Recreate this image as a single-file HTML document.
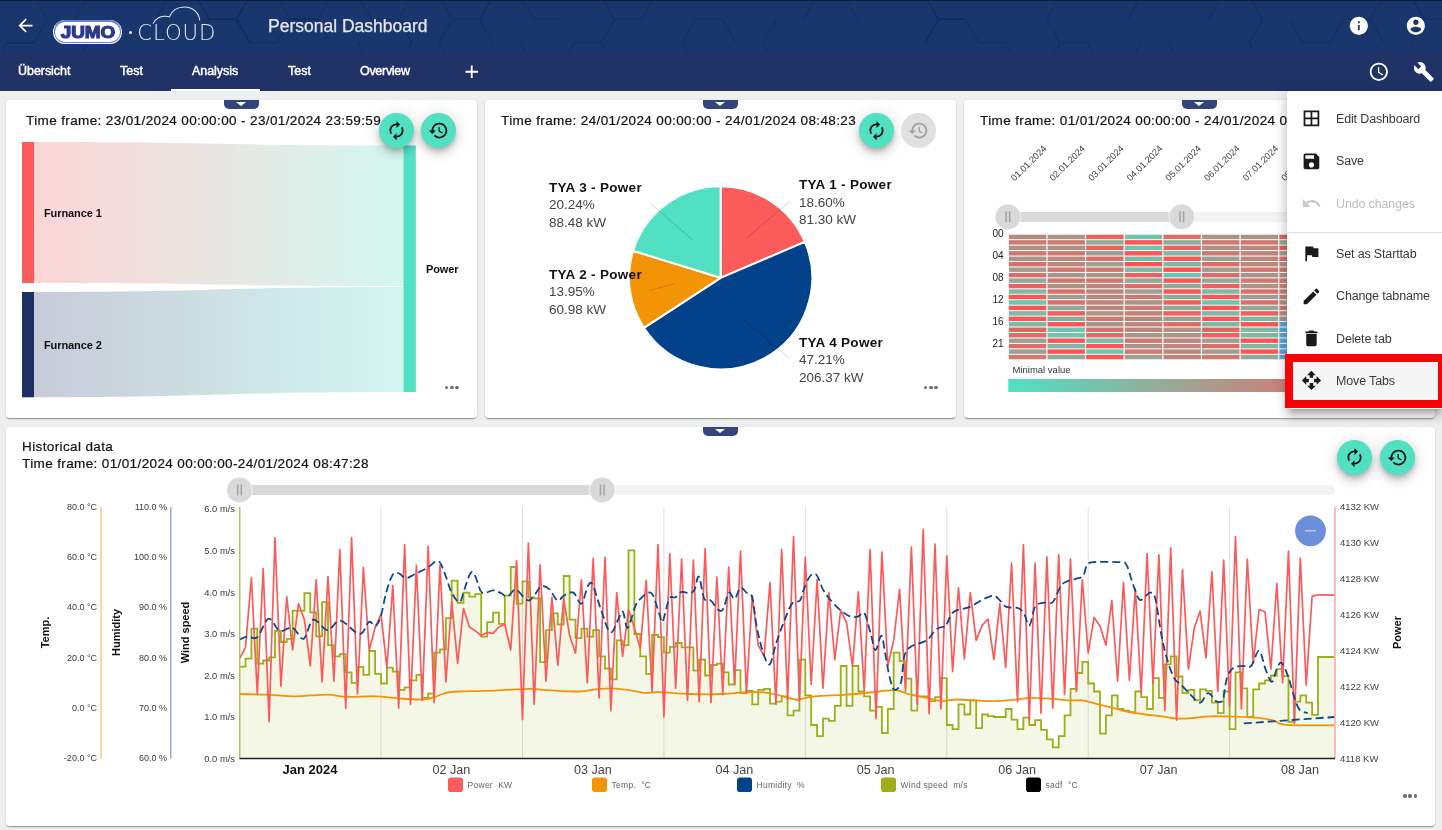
<!DOCTYPE html><html><head><meta charset="utf-8"><title>Personal Dashboard</title><style>
*{box-sizing:border-box;margin:0;padding:0}
html,body{width:1442px;height:830px;overflow:hidden;background:#eef0f0;font-family:"Liberation Sans",sans-serif;}
.abs{position:absolute}
#top{position:absolute;left:0;top:0;width:1442px;height:52px;background:#19376d;overflow:hidden}
#tabs{position:absolute;left:0;top:52px;width:1442px;height:39px;background:#213267}
.tab{position:absolute;top:11.8px;color:#fff;font-size:12.5px;font-weight:400;white-space:nowrap;-webkit-text-stroke:.45px #fff}
.card{position:absolute;background:#fff;border-radius:4px;box-shadow:0 2px 1px -1px rgba(0,0,0,.2),0 1px 1px 0 rgba(0,0,0,.14),0 1px 3px 0 rgba(0,0,0,.12);overflow:hidden}
.tf{position:absolute;font-size:13.5px;color:#111;white-space:nowrap;letter-spacing:.38px;-webkit-text-stroke:.2px #111}
.handle{position:absolute;left:50%;top:0;width:35px;height:8.6px;margin-left:-17.7px;background:#34457a;border-radius:0 0 5px 5px}
.handle:after{content:"";position:absolute;left:12.6px;top:1.6px;border-left:5px solid transparent;border-right:5px solid transparent;border-top:4.8px solid #fff}
.fab{position:absolute;width:35.2px;height:35.2px;border-radius:50%;background:#52e0c3;box-shadow:0 3px 5px -1px rgba(0,0,0,.2),0 6px 10px 0 rgba(0,0,0,.14),0 1px 18px 0 rgba(0,0,0,.12)}
.fab.dis{background:#e0e0e0;box-shadow:none}
.fab svg{position:absolute;left:7.1px;top:7.1px;width:21px;height:21px}
.dots{position:absolute;width:16px;height:4px}
.dots i{position:absolute;top:0;width:3.6px;height:3.6px;border-radius:50%;background:#6e6e6e}
#menu{position:absolute;left:1287px;top:91px;width:155px;height:318px;background:#fff;border-radius:4px 0 0 4px;box-shadow:0 5px 5px -3px rgba(0,0,0,.2),0 8px 10px 1px rgba(0,0,0,.14),0 3px 14px 2px rgba(0,0,0,.12)}
.mi{position:absolute;left:49px;font-size:12.5px;color:#3a3a3a;white-space:nowrap;letter-spacing:-.15px}
.mi.dis{color:#bdbdbd}
.mic{position:absolute;left:13.9px;width:20.9px;height:20.9px}
svg text{font-family:"Liberation Sans",sans-serif}
</style></head><body>
<div id="top">
<svg class="abs" style="left:0;top:0" width="1442" height="52" viewBox="0 0 1442 52"><g fill="none" stroke="#122b58" stroke-opacity=".55" stroke-width="1.2">
<polyline points="-6.5,19.4 -33.5,19.4 -47.0,-4.0 -33.5,-27.4"/>
<polyline points="128.5,-27.4 155.5,-27.4 169.0,-4.0"/>
<polyline points="250.0,-4.0 236.5,19.4 209.5,19.4 196.0,-4.0"/>
<polyline points="331.0,-4.0 317.5,19.4 290.5,19.4 277.0,-4.0"/>
<polyline points="398.5,19.4 371.5,19.4 358.0,-4.0"/>
<polyline points="493.0,-4.0 479.5,19.4 452.5,19.4 439.0,-4.0"/>
<polyline points="560.5,19.4 533.5,19.4 520.0,-4.0 533.5,-27.4"/>
<polyline points="763.0,-4.0 776.5,-27.4 803.5,-27.4"/>
<polyline points="965.5,19.4 938.5,19.4 925.0,-4.0 938.5,-27.4"/>
<polyline points="1019.5,-27.4 1046.5,-27.4 1060.0,-4.0"/>
<polyline points="1100.5,-27.4 1127.5,-27.4 1141.0,-4.0 1127.5,19.4"/>
<polyline points="1181.5,-27.4 1208.5,-27.4 1222.0,-4.0 1208.5,19.4"/>
<polyline points="1343.5,-27.4 1370.5,-27.4 1384.0,-4.0 1370.5,19.4"/>
<polyline points="1465.0,-4.0 1451.5,19.4 1424.5,19.4 1411.0,-4.0"/>
<polyline points="34.0,-4.0 47.5,19.4 34.0,42.8 7.0,42.8"/>
<polyline points="88.0,42.8 74.5,19.4 88.0,-4.0 115.0,-4.0"/>
<polyline points="155.5,19.4 169.0,-4.0 196.0,-4.0 209.5,19.4"/>
<polyline points="277.0,42.8 250.0,42.8 236.5,19.4 250.0,-4.0"/>
<polyline points="412.0,42.8 398.5,19.4 412.0,-4.0 439.0,-4.0"/>
<polyline points="493.0,42.8 479.5,19.4 493.0,-4.0 520.0,-4.0"/>
<polyline points="574.0,-4.0 601.0,-4.0 614.5,19.4"/>
<polyline points="641.5,19.4 655.0,-4.0 682.0,-4.0"/>
<polyline points="803.5,19.4 817.0,-4.0 844.0,-4.0 857.5,19.4"/>
<polyline points="925.0,-4.0 938.5,19.4 925.0,42.8"/>
<polyline points="1060.0,42.8 1046.5,19.4 1060.0,-4.0 1087.0,-4.0"/>
<polyline points="1222.0,-4.0 1249.0,-4.0 1262.5,19.4 1249.0,42.8"/>
<polyline points="1343.5,19.4 1330.0,42.8 1303.0,42.8 1289.5,19.4"/>
<polyline points="1411.0,-4.0 1424.5,19.4 1411.0,42.8"/>
<polyline points="1492.0,-4.0 1505.5,19.4 1492.0,42.8 1465.0,42.8"/>
<polyline points="196.0,42.8 209.5,19.4 236.5,19.4 250.0,42.8"/>
<polyline points="277.0,42.8 290.5,19.4 317.5,19.4 331.0,42.8"/>
<polyline points="412.0,42.8 398.5,66.1 371.5,66.1 358.0,42.8"/>
<polyline points="452.5,66.1 439.0,42.8 452.5,19.4"/>
<polyline points="601.0,42.8 614.5,19.4 641.5,19.4"/>
<polyline points="682.0,42.8 695.5,19.4 722.5,19.4 736.0,42.8"/>
<polyline points="803.5,66.1 776.5,66.1 763.0,42.8 776.5,19.4"/>
<polyline points="925.0,42.8 938.5,19.4 965.5,19.4 979.0,42.8"/>
<polyline points="1127.5,66.1 1100.5,66.1 1087.0,42.8"/>
<polyline points="1208.5,66.1 1181.5,66.1 1168.0,42.8"/>
<polyline points="1343.5,19.4 1370.5,19.4 1384.0,42.8"/>
<polyline points="1465.0,42.8 1451.5,66.1 1424.5,66.1"/>
<polyline points="7.0,89.5 -6.5,66.1 7.0,42.8 34.0,42.8"/>
<polyline points="115.0,89.5 88.0,89.5 74.5,66.1 88.0,42.8"/>
<polyline points="520.0,42.8 533.5,66.1 520.0,89.5 493.0,89.5"/>
<polyline points="560.5,66.1 574.0,42.8 601.0,42.8 614.5,66.1"/>
<polyline points="682.0,42.8 695.5,66.1 682.0,89.5 655.0,89.5"/>
<polyline points="776.5,66.1 763.0,89.5 736.0,89.5"/>
<polyline points="857.5,66.1 844.0,89.5 817.0,89.5 803.5,66.1"/>
<polyline points="979.0,42.8 1006.0,42.8 1019.5,66.1"/>
<polyline points="1060.0,89.5 1046.5,66.1 1060.0,42.8 1087.0,42.8"/>
<polyline points="1168.0,89.5 1141.0,89.5 1127.5,66.1 1141.0,42.8"/>
<polyline points="1249.0,42.8 1262.5,66.1 1249.0,89.5 1222.0,89.5"/>
<polyline points="1505.5,66.1 1492.0,89.5 1465.0,89.5 1451.5,66.1"/>
</g><rect x="0" y="0" width="1442" height="1" fill="#0b1a3a"/></svg>
<svg class="abs" style="left:14.8px;top:15.1px;width:21px;height:21px" viewBox="0 0 24 24"><path fill="#fff" d="M20 11H7.83l5.59-5.59L12 4l-8 8 8 8 1.41-1.41L7.83 13H20v-2z"/></svg>
<div class="abs" style="left:53.2px;top:19.6px;width:68.8px;height:24.2px;border-radius:12.1px;background:#fff"></div>
<div class="abs" style="left:54px;top:20.4px;width:67.2px;height:22.6px;border-radius:11.3px;background:#6f82cc"></div>
<div class="abs" style="left:55.4px;top:21.8px;width:64.4px;height:19.8px;border-radius:9.9px;background:#fff"></div>
<div class="abs" style="left:58px;top:22.2px;width:60px;text-align:center;font-size:17.2px;line-height:20px;font-weight:700;color:#2b3a8f;letter-spacing:0px;-webkit-text-stroke:1.2px #2b3a8f;transform:scaleX(1.1)">JUMO</div>
<div class="abs" style="left:128.9px;top:30.9px;width:3px;height:3px;border-radius:50%;background:#e4e8f2"></div>
<svg class="abs" style="left:134px;top:2px" width="90" height="46" viewBox="134 2 90 46"><g fill="none" stroke="#e4e8f2" stroke-width="1.05"><path d="M153 23.6 C155 19 160 16.4 164 16.2 C166 16.1 168 16.3 169.5 16.7 C172 10.5 178 7 184.7 7 C193 7 199 13 199.8 20.4"/></g><text x="137.3" y="40.4" font-size="21.3" fill="#e4e8f2" textLength="78" lengthAdjust="spacing" style="font-family:'DejaVu Sans','Liberation Sans',sans-serif;font-weight:200">CLOUD</text></svg>
<div class="abs" style="left:268px;top:15.9px;font-size:17.5px;color:#e6e8ee;white-space:nowrap;-webkit-text-stroke:.25px #e6e8ee">Personal Dashboard</div>
<svg class="abs" style="left:1348.2px;top:14.8px;width:21.7px;height:21.7px" viewBox="0 0 24 24"><path fill="#fff" d="M12 2C6.48 2 2 6.48 2 12s4.48 10 10 10 10-4.48 10-10S17.52 2 12 2zm1 15h-2v-6h2v6zm0-8h-2V7h2v2z"/></svg>
<svg class="abs" style="left:1405.0px;top:14.8px;width:21.7px;height:21.7px" viewBox="0 0 24 24"><path fill="#fff" d="M12 2C6.48 2 2 6.48 2 12s4.48 10 10 10 10-4.48 10-10S17.52 2 12 2zm0 3c1.66 0 3 1.34 3 3s-1.34 3-3 3-3-1.34-3-3 1.34-3 3-3zm0 14.2c-2.5 0-4.71-1.28-6-3.22.03-1.99 4-3.08 6-3.08 1.99 0 5.97 1.09 6 3.08-1.29 1.94-3.5 3.22-6 3.22z"/></svg>
</div>
<div id="tabs">
<div class="tab" style="left:18px;letter-spacing:-0.05px">Übersicht</div>
<div class="tab" style="left:120px;letter-spacing:0px">Test</div>
<div class="tab" style="left:192px;letter-spacing:-0.05px">Analysis</div>
<div class="tab" style="left:288px;letter-spacing:0px">Test</div>
<div class="tab" style="left:360px;letter-spacing:-0.3px">Overview</div>
<div class="abs" style="left:171px;top:37px;width:89px;height:2px;background:#fff"></div>
<svg class="abs" style="left:460.9px;top:8.8px;width:21.5px;height:21.5px" viewBox="0 0 24 24"><path fill="#fff" d="M19 13h-6v6h-2v-6H5v-2h6V5h2v6h6v2z"/></svg>
<svg class="abs" style="left:1368.1px;top:8.5px;width:21.7px;height:21.7px" viewBox="0 0 24 24"><path fill="#fff" d="M11.99 2C6.47 2 2 6.48 2 12s4.47 10 9.99 10C17.52 22 22 17.52 22 12S17.52 2 11.99 2zM12 20c-4.42 0-8-3.58-8-8s3.58-8 8-8 8 3.58 8 8-3.58 8-8 8zm.5-13H11v6l5.25 3.15.75-1.23-4.5-2.67z"/></svg>
<svg class="abs" style="left:1413.4px;top:8.8px;width:21.7px;height:21.7px" viewBox="0 0 24 24"><path fill="#fff" d="M22.7 19l-9.1-9.1c.9-2.3.4-5-1.5-6.9-2-2-5-2.4-7.4-1.3L9 6 6 9 1.6 4.7C.4 7.1.9 10.1 2.9 12.1c1.9 1.9 4.6 2.4 6.9 1.5l9.1 9.1c.4.4 1 .4 1.4 0l2.3-2.3c.5-.4.5-1.1.1-1.4z"/></svg>
</div>
<div class="card" style="left:6px;top:100px;width:471px;height:318px"><div class="handle"></div></div>
<div class="card" style="left:485px;top:100px;width:471px;height:318px"><div class="handle"></div></div>
<div class="card" style="left:964px;top:100px;width:471px;height:318px"><div class="handle"></div></div>
<div class="card" style="left:6px;top:427px;width:1429px;height:399px"><div class="handle"></div></div>
<div class="tf" style="left:26px;top:112.8px">Time frame: 23/01/2024 00:00:00 - 23/01/2024 23:59:59</div>
<div class="tf" style="left:501px;top:112.8px">Time frame: 24/01/2024 00:00:00 - 24/01/2024 08:48:23</div>
<div class="tf" style="left:980px;top:112.8px">Time frame: 01/01/2024 00:00:00 - 24/01/2024 08:48:23</div>
<div class="tf" style="left:22px;top:439px">Historical data</div>
<div class="tf" style="left:22px;top:456px">Time frame: 01/01/2024 00:00:00-24/01/2024 08:47:28</div>
<svg class="abs" style="left:0;top:0" width="1442" height="830" viewBox="0 0 1442 830">
<defs><linearGradient id="g1" x1="0" x2="1" y1="0" y2="0"><stop offset="0" stop-color="#fcd6d5"/><stop offset="1" stop-color="#d3f7f0"/></linearGradient><linearGradient id="g2" x1="0" x2="1" y1="0" y2="0"><stop offset="0" stop-color="#c7cbd8"/><stop offset="1" stop-color="#d3f7f0"/></linearGradient><linearGradient id="g3" x1="0" x2="1" y1="0" y2="0"><stop offset="0" stop-color="#52e0c3"/><stop offset="1" stop-color="#fb5b5b"/></linearGradient><clipPath id="cp"><rect x="240" y="500" width="1094.5" height="258.5"/></clipPath><clipPath id="c3"><rect x="964" y="100" width="323" height="318"/></clipPath></defs>
<path d="M34 142 C218 142 218 145.5 403.5 145.5 L403.5 286.3 C218 286.3 218 283 34 283 Z" fill="url(#g1)"/>
<path d="M34 292 C218 292 218 287 403.5 287 L403.5 392 C218 392 218 397.3 34 397.3 Z" fill="url(#g2)"/>
<rect x="22" y="142" width="12" height="141" fill="#fb5b5b"/>
<rect x="22" y="292" width="12" height="105.3" fill="#1e2f63"/>
<rect x="403.5" y="145.5" width="12.3" height="246.5" fill="#52e0c3"/>
<text x="44" y="216.5" font-size="11" font-weight="700" fill="#111" letter-spacing="-.1">Furnance 1</text>
<text x="44" y="349" font-size="11" font-weight="700" fill="#111" letter-spacing="-.1">Furnance 2</text>
<text x="426" y="273" font-size="11" font-weight="700" fill="#111" letter-spacing="-.1">Power</text>
<path d="M720.6 277.8 L720.60 186.20 A91.6 91.6 0 0 1 804.89 241.95 Z" fill="#fb5b5b" stroke="#fff" stroke-width="2" stroke-linejoin="round"/>
<path d="M720.6 277.8 L804.89 241.95 A91.6 91.6 0 0 1 643.85 327.80 Z" fill="#02428a" stroke="#fff" stroke-width="2" stroke-linejoin="round"/>
<path d="M720.6 277.8 L643.85 327.80 A91.6 91.6 0 0 1 633.07 250.81 Z" fill="#f39406" stroke="#fff" stroke-width="2" stroke-linejoin="round"/>
<path d="M720.6 277.8 L633.07 250.81 A91.6 91.6 0 0 1 720.60 186.20 Z" fill="#52e0c3" stroke="#fff" stroke-width="2" stroke-linejoin="round"/>
<line x1="745.8" y1="238.8" x2="790" y2="201" stroke="#000" stroke-opacity=".17" stroke-width="1"/>
<line x1="692.9" y1="240.3" x2="650.4" y2="203.4" stroke="#000" stroke-opacity=".17" stroke-width="1"/>
<line x1="674.4" y1="283.9" x2="650.4" y2="290.2" stroke="#000" stroke-opacity=".17" stroke-width="1"/>
<line x1="741.5" y1="318" x2="790" y2="358.5" stroke="#000" stroke-opacity=".17" stroke-width="1"/>
<text x="799" y="189.0" font-size="13.5" font-weight="700" fill="#111" letter-spacing=".3">TYA 1 - Power</text>
<text x="799" y="206.9" font-size="13.5" fill="#444" letter-spacing="0">18.60%</text>
<text x="799" y="224.2" font-size="13.5" fill="#444" letter-spacing="0">81.30 kW</text>
<text x="549" y="191.5" font-size="13.5" font-weight="700" fill="#111" letter-spacing=".3">TYA 3 - Power</text>
<text x="549" y="209.4" font-size="13.5" fill="#444" letter-spacing="0">20.24%</text>
<text x="549" y="226.7" font-size="13.5" fill="#444" letter-spacing="0">88.48 kW</text>
<text x="549" y="278.5" font-size="13.5" font-weight="700" fill="#111" letter-spacing=".3">TYA 2 - Power</text>
<text x="549" y="296.4" font-size="13.5" fill="#444" letter-spacing="0">13.95%</text>
<text x="549" y="313.7" font-size="13.5" fill="#444" letter-spacing="0">60.98 kW</text>
<text x="799" y="346.5" font-size="13.5" font-weight="700" fill="#111" letter-spacing=".3">TYA 4 Power</text>
<text x="799" y="364.4" font-size="13.5" fill="#444" letter-spacing="0">47.21%</text>
<text x="799" y="381.7" font-size="13.5" fill="#444" letter-spacing="0">206.37 kW</text>
<g clip-path="url(#c3)">
<rect x="1008.90" y="234.70" width="37.43" height="4.46" fill="rgb(189, 134, 124)"/>
<rect x="1008.90" y="240.16" width="37.43" height="4.46" fill="rgb(204, 122, 114)"/>
<rect x="1008.90" y="245.62" width="37.43" height="4.46" fill="rgb(173, 147, 134)"/>
<rect x="1008.90" y="251.08" width="37.43" height="4.46" fill="rgb(204, 122, 114)"/>
<rect x="1008.90" y="256.54" width="37.43" height="4.46" fill="rgb(173, 147, 134)"/>
<rect x="1008.90" y="262.00" width="37.43" height="4.46" fill="rgb(220, 110, 105)"/>
<rect x="1008.90" y="267.46" width="37.43" height="4.46" fill="rgb(158, 159, 144)"/>
<rect x="1008.90" y="272.92" width="37.43" height="4.46" fill="rgb(220, 110, 105)"/>
<rect x="1008.90" y="278.38" width="37.43" height="4.46" fill="rgb(142, 171, 153)"/>
<rect x="1008.90" y="283.84" width="37.43" height="4.46" fill="rgb(235, 97, 95)"/>
<rect x="1008.90" y="289.30" width="37.43" height="4.46" fill="rgb(127, 184, 163)"/>
<rect x="1008.90" y="294.76" width="37.43" height="4.46" fill="rgb(251, 85, 85)"/>
<rect x="1008.90" y="300.22" width="37.43" height="4.46" fill="rgb(111, 196, 173)"/>
<rect x="1008.90" y="305.68" width="37.43" height="4.46" fill="rgb(251, 85, 85)"/>
<rect x="1008.90" y="311.14" width="37.43" height="4.46" fill="rgb(127, 184, 163)"/>
<rect x="1008.90" y="316.60" width="37.43" height="4.46" fill="rgb(251, 85, 85)"/>
<rect x="1008.90" y="322.06" width="37.43" height="4.46" fill="rgb(127, 184, 163)"/>
<rect x="1008.90" y="327.52" width="37.43" height="4.46" fill="rgb(235, 97, 95)"/>
<rect x="1008.90" y="332.98" width="37.43" height="4.46" fill="rgb(220, 110, 105)"/>
<rect x="1008.90" y="338.44" width="37.43" height="4.46" fill="rgb(158, 159, 144)"/>
<rect x="1008.90" y="343.90" width="37.43" height="4.46" fill="rgb(220, 110, 105)"/>
<rect x="1008.90" y="349.36" width="37.43" height="4.46" fill="rgb(158, 159, 144)"/>
<rect x="1008.90" y="354.82" width="37.43" height="4.46" fill="rgb(204, 122, 114)"/>
<rect x="1047.53" y="234.70" width="37.43" height="4.46" fill="rgb(173, 147, 134)"/>
<rect x="1047.53" y="240.16" width="37.43" height="4.46" fill="rgb(204, 122, 114)"/>
<rect x="1047.53" y="245.62" width="37.43" height="4.46" fill="rgb(173, 147, 134)"/>
<rect x="1047.53" y="251.08" width="37.43" height="4.46" fill="rgb(204, 122, 114)"/>
<rect x="1047.53" y="256.54" width="37.43" height="4.46" fill="rgb(189, 134, 124)"/>
<rect x="1047.53" y="262.00" width="37.43" height="4.46" fill="rgb(189, 134, 124)"/>
<rect x="1047.53" y="267.46" width="37.43" height="4.46" fill="rgb(204, 122, 114)"/>
<rect x="1047.53" y="272.92" width="37.43" height="4.46" fill="rgb(173, 147, 134)"/>
<rect x="1047.53" y="278.38" width="37.43" height="4.46" fill="rgb(204, 122, 114)"/>
<rect x="1047.53" y="283.84" width="37.43" height="4.46" fill="rgb(173, 147, 134)"/>
<rect x="1047.53" y="289.30" width="37.43" height="4.46" fill="rgb(220, 110, 105)"/>
<rect x="1047.53" y="294.76" width="37.43" height="4.46" fill="rgb(158, 159, 144)"/>
<rect x="1047.53" y="300.22" width="37.43" height="4.46" fill="rgb(220, 110, 105)"/>
<rect x="1047.53" y="305.68" width="37.43" height="4.46" fill="rgb(142, 171, 153)"/>
<rect x="1047.53" y="311.14" width="37.43" height="4.46" fill="rgb(235, 97, 95)"/>
<rect x="1047.53" y="316.60" width="37.43" height="4.46" fill="rgb(142, 171, 153)"/>
<rect x="1047.53" y="322.06" width="37.43" height="4.46" fill="rgb(251, 85, 85)"/>
<rect x="1047.53" y="327.52" width="37.43" height="4.46" fill="rgb(111, 196, 173)"/>
<rect x="1047.53" y="332.98" width="37.43" height="4.46" fill="rgb(111, 196, 173)"/>
<rect x="1047.53" y="338.44" width="37.43" height="4.46" fill="rgb(251, 85, 85)"/>
<rect x="1047.53" y="343.90" width="37.43" height="4.46" fill="rgb(127, 184, 163)"/>
<rect x="1047.53" y="349.36" width="37.43" height="4.46" fill="rgb(251, 85, 85)"/>
<rect x="1047.53" y="354.82" width="37.43" height="4.46" fill="rgb(142, 171, 153)"/>
<rect x="1086.16" y="234.70" width="37.43" height="4.46" fill="rgb(235, 97, 95)"/>
<rect x="1086.16" y="240.16" width="37.43" height="4.46" fill="rgb(142, 171, 153)"/>
<rect x="1086.16" y="245.62" width="37.43" height="4.46" fill="rgb(235, 97, 95)"/>
<rect x="1086.16" y="251.08" width="37.43" height="4.46" fill="rgb(158, 159, 144)"/>
<rect x="1086.16" y="256.54" width="37.43" height="4.46" fill="rgb(220, 110, 105)"/>
<rect x="1086.16" y="262.00" width="37.43" height="4.46" fill="rgb(158, 159, 144)"/>
<rect x="1086.16" y="267.46" width="37.43" height="4.46" fill="rgb(204, 122, 114)"/>
<rect x="1086.16" y="272.92" width="37.43" height="4.46" fill="rgb(173, 147, 134)"/>
<rect x="1086.16" y="278.38" width="37.43" height="4.46" fill="rgb(204, 122, 114)"/>
<rect x="1086.16" y="283.84" width="37.43" height="4.46" fill="rgb(189, 134, 124)"/>
<rect x="1086.16" y="289.30" width="37.43" height="4.46" fill="rgb(189, 134, 124)"/>
<rect x="1086.16" y="294.76" width="37.43" height="4.46" fill="rgb(189, 134, 124)"/>
<rect x="1086.16" y="300.22" width="37.43" height="4.46" fill="rgb(189, 134, 124)"/>
<rect x="1086.16" y="305.68" width="37.43" height="4.46" fill="rgb(189, 134, 124)"/>
<rect x="1086.16" y="311.14" width="37.43" height="4.46" fill="rgb(173, 147, 134)"/>
<rect x="1086.16" y="316.60" width="37.43" height="4.46" fill="rgb(204, 122, 114)"/>
<rect x="1086.16" y="322.06" width="37.43" height="4.46" fill="rgb(173, 147, 134)"/>
<rect x="1086.16" y="327.52" width="37.43" height="4.46" fill="rgb(220, 110, 105)"/>
<rect x="1086.16" y="332.98" width="37.43" height="4.46" fill="rgb(220, 110, 105)"/>
<rect x="1086.16" y="338.44" width="37.43" height="4.46" fill="rgb(127, 184, 163)"/>
<rect x="1086.16" y="343.90" width="37.43" height="4.46" fill="rgb(251, 85, 85)"/>
<rect x="1086.16" y="349.36" width="37.43" height="4.46" fill="rgb(111, 196, 173)"/>
<rect x="1086.16" y="354.82" width="37.43" height="4.46" fill="rgb(251, 85, 85)"/>
<rect x="1124.79" y="234.70" width="37.43" height="4.46" fill="rgb(111, 196, 173)"/>
<rect x="1124.79" y="240.16" width="37.43" height="4.46" fill="rgb(251, 85, 85)"/>
<rect x="1124.79" y="245.62" width="37.43" height="4.46" fill="rgb(111, 196, 173)"/>
<rect x="1124.79" y="251.08" width="37.43" height="4.46" fill="rgb(251, 85, 85)"/>
<rect x="1124.79" y="256.54" width="37.43" height="4.46" fill="rgb(127, 184, 163)"/>
<rect x="1124.79" y="262.00" width="37.43" height="4.46" fill="rgb(251, 85, 85)"/>
<rect x="1124.79" y="267.46" width="37.43" height="4.46" fill="rgb(127, 184, 163)"/>
<rect x="1124.79" y="272.92" width="37.43" height="4.46" fill="rgb(235, 97, 95)"/>
<rect x="1124.79" y="278.38" width="37.43" height="4.46" fill="rgb(142, 171, 153)"/>
<rect x="1124.79" y="283.84" width="37.43" height="4.46" fill="rgb(220, 110, 105)"/>
<rect x="1124.79" y="289.30" width="37.43" height="4.46" fill="rgb(158, 159, 144)"/>
<rect x="1124.79" y="294.76" width="37.43" height="4.46" fill="rgb(204, 122, 114)"/>
<rect x="1124.79" y="300.22" width="37.43" height="4.46" fill="rgb(173, 147, 134)"/>
<rect x="1124.79" y="305.68" width="37.43" height="4.46" fill="rgb(204, 122, 114)"/>
<rect x="1124.79" y="311.14" width="37.43" height="4.46" fill="rgb(189, 134, 124)"/>
<rect x="1124.79" y="316.60" width="37.43" height="4.46" fill="rgb(189, 134, 124)"/>
<rect x="1124.79" y="322.06" width="37.43" height="4.46" fill="rgb(189, 134, 124)"/>
<rect x="1124.79" y="327.52" width="37.43" height="4.46" fill="rgb(189, 134, 124)"/>
<rect x="1124.79" y="332.98" width="37.43" height="4.46" fill="rgb(173, 147, 134)"/>
<rect x="1124.79" y="338.44" width="37.43" height="4.46" fill="rgb(204, 122, 114)"/>
<rect x="1124.79" y="343.90" width="37.43" height="4.46" fill="rgb(173, 147, 134)"/>
<rect x="1124.79" y="349.36" width="37.43" height="4.46" fill="rgb(204, 122, 114)"/>
<rect x="1124.79" y="354.82" width="37.43" height="4.46" fill="rgb(158, 159, 144)"/>
<rect x="1163.42" y="234.70" width="37.43" height="4.46" fill="rgb(220, 110, 105)"/>
<rect x="1163.42" y="240.16" width="37.43" height="4.46" fill="rgb(142, 171, 153)"/>
<rect x="1163.42" y="245.62" width="37.43" height="4.46" fill="rgb(235, 97, 95)"/>
<rect x="1163.42" y="251.08" width="37.43" height="4.46" fill="rgb(127, 184, 163)"/>
<rect x="1163.42" y="256.54" width="37.43" height="4.46" fill="rgb(251, 85, 85)"/>
<rect x="1163.42" y="262.00" width="37.43" height="4.46" fill="rgb(127, 184, 163)"/>
<rect x="1163.42" y="267.46" width="37.43" height="4.46" fill="rgb(251, 85, 85)"/>
<rect x="1163.42" y="272.92" width="37.43" height="4.46" fill="rgb(111, 196, 173)"/>
<rect x="1163.42" y="278.38" width="37.43" height="4.46" fill="rgb(251, 85, 85)"/>
<rect x="1163.42" y="283.84" width="37.43" height="4.46" fill="rgb(142, 171, 153)"/>
<rect x="1163.42" y="289.30" width="37.43" height="4.46" fill="rgb(251, 85, 85)"/>
<rect x="1163.42" y="294.76" width="37.43" height="4.46" fill="rgb(142, 171, 153)"/>
<rect x="1163.42" y="300.22" width="37.43" height="4.46" fill="rgb(235, 97, 95)"/>
<rect x="1163.42" y="305.68" width="37.43" height="4.46" fill="rgb(142, 171, 153)"/>
<rect x="1163.42" y="311.14" width="37.43" height="4.46" fill="rgb(235, 97, 95)"/>
<rect x="1163.42" y="316.60" width="37.43" height="4.46" fill="rgb(158, 159, 144)"/>
<rect x="1163.42" y="322.06" width="37.43" height="4.46" fill="rgb(220, 110, 105)"/>
<rect x="1163.42" y="327.52" width="37.43" height="4.46" fill="rgb(173, 147, 134)"/>
<rect x="1163.42" y="332.98" width="37.43" height="4.46" fill="rgb(173, 147, 134)"/>
<rect x="1163.42" y="338.44" width="37.43" height="4.46" fill="rgb(189, 134, 124)"/>
<rect x="1163.42" y="343.90" width="37.43" height="4.46" fill="rgb(189, 134, 124)"/>
<rect x="1163.42" y="349.36" width="37.43" height="4.46" fill="rgb(189, 134, 124)"/>
<rect x="1163.42" y="354.82" width="37.43" height="4.46" fill="rgb(189, 134, 124)"/>
<rect x="1202.05" y="234.70" width="37.43" height="4.46" fill="rgb(173, 147, 134)"/>
<rect x="1202.05" y="240.16" width="37.43" height="4.46" fill="rgb(204, 122, 114)"/>
<rect x="1202.05" y="245.62" width="37.43" height="4.46" fill="rgb(173, 147, 134)"/>
<rect x="1202.05" y="251.08" width="37.43" height="4.46" fill="rgb(204, 122, 114)"/>
<rect x="1202.05" y="256.54" width="37.43" height="4.46" fill="rgb(158, 159, 144)"/>
<rect x="1202.05" y="262.00" width="37.43" height="4.46" fill="rgb(220, 110, 105)"/>
<rect x="1202.05" y="267.46" width="37.43" height="4.46" fill="rgb(158, 159, 144)"/>
<rect x="1202.05" y="272.92" width="37.43" height="4.46" fill="rgb(220, 110, 105)"/>
<rect x="1202.05" y="278.38" width="37.43" height="4.46" fill="rgb(142, 171, 153)"/>
<rect x="1202.05" y="283.84" width="37.43" height="4.46" fill="rgb(235, 97, 95)"/>
<rect x="1202.05" y="289.30" width="37.43" height="4.46" fill="rgb(127, 184, 163)"/>
<rect x="1202.05" y="294.76" width="37.43" height="4.46" fill="rgb(251, 85, 85)"/>
<rect x="1202.05" y="300.22" width="37.43" height="4.46" fill="rgb(111, 196, 173)"/>
<rect x="1202.05" y="305.68" width="37.43" height="4.46" fill="rgb(251, 85, 85)"/>
<rect x="1202.05" y="311.14" width="37.43" height="4.46" fill="rgb(127, 184, 163)"/>
<rect x="1202.05" y="316.60" width="37.43" height="4.46" fill="rgb(251, 85, 85)"/>
<rect x="1202.05" y="322.06" width="37.43" height="4.46" fill="rgb(127, 184, 163)"/>
<rect x="1202.05" y="327.52" width="37.43" height="4.46" fill="rgb(235, 97, 95)"/>
<rect x="1202.05" y="332.98" width="37.43" height="4.46" fill="rgb(235, 97, 95)"/>
<rect x="1202.05" y="338.44" width="37.43" height="4.46" fill="rgb(158, 159, 144)"/>
<rect x="1202.05" y="343.90" width="37.43" height="4.46" fill="rgb(220, 110, 105)"/>
<rect x="1202.05" y="349.36" width="37.43" height="4.46" fill="rgb(158, 159, 144)"/>
<rect x="1202.05" y="354.82" width="37.43" height="4.46" fill="rgb(204, 122, 114)"/>
<rect x="1240.68" y="234.70" width="37.43" height="4.46" fill="rgb(173, 147, 134)"/>
<rect x="1240.68" y="240.16" width="37.43" height="4.46" fill="rgb(204, 122, 114)"/>
<rect x="1240.68" y="245.62" width="37.43" height="4.46" fill="rgb(189, 134, 124)"/>
<rect x="1240.68" y="251.08" width="37.43" height="4.46" fill="rgb(189, 134, 124)"/>
<rect x="1240.68" y="256.54" width="37.43" height="4.46" fill="rgb(189, 134, 124)"/>
<rect x="1240.68" y="262.00" width="37.43" height="4.46" fill="rgb(189, 134, 124)"/>
<rect x="1240.68" y="267.46" width="37.43" height="4.46" fill="rgb(204, 122, 114)"/>
<rect x="1240.68" y="272.92" width="37.43" height="4.46" fill="rgb(173, 147, 134)"/>
<rect x="1240.68" y="278.38" width="37.43" height="4.46" fill="rgb(204, 122, 114)"/>
<rect x="1240.68" y="283.84" width="37.43" height="4.46" fill="rgb(173, 147, 134)"/>
<rect x="1240.68" y="289.30" width="37.43" height="4.46" fill="rgb(220, 110, 105)"/>
<rect x="1240.68" y="294.76" width="37.43" height="4.46" fill="rgb(158, 159, 144)"/>
<rect x="1240.68" y="300.22" width="37.43" height="4.46" fill="rgb(220, 110, 105)"/>
<rect x="1240.68" y="305.68" width="37.43" height="4.46" fill="rgb(142, 171, 153)"/>
<rect x="1240.68" y="311.14" width="37.43" height="4.46" fill="rgb(235, 97, 95)"/>
<rect x="1240.68" y="316.60" width="37.43" height="4.46" fill="rgb(127, 184, 163)"/>
<rect x="1240.68" y="322.06" width="37.43" height="4.46" fill="rgb(251, 85, 85)"/>
<rect x="1240.68" y="327.52" width="37.43" height="4.46" fill="rgb(127, 184, 163)"/>
<rect x="1240.68" y="332.98" width="37.43" height="4.46" fill="rgb(127, 184, 163)"/>
<rect x="1240.68" y="338.44" width="37.43" height="4.46" fill="rgb(251, 85, 85)"/>
<rect x="1240.68" y="343.90" width="37.43" height="4.46" fill="rgb(127, 184, 163)"/>
<rect x="1240.68" y="349.36" width="37.43" height="4.46" fill="rgb(251, 85, 85)"/>
<rect x="1240.68" y="354.82" width="37.43" height="4.46" fill="rgb(142, 171, 153)"/>
<rect x="1279.31" y="234.70" width="37.43" height="4.46" fill="rgb(235, 97, 95)"/>
<rect x="1279.31" y="240.16" width="37.43" height="4.46" fill="rgb(142, 171, 153)"/>
<rect x="1279.31" y="245.62" width="37.43" height="4.46" fill="rgb(235, 97, 95)"/>
<rect x="1279.31" y="251.08" width="37.43" height="4.46" fill="rgb(158, 159, 144)"/>
<rect x="1279.31" y="256.54" width="37.43" height="4.46" fill="rgb(220, 110, 105)"/>
<rect x="1279.31" y="262.00" width="37.43" height="4.46" fill="rgb(173, 147, 134)"/>
<rect x="1279.31" y="267.46" width="37.43" height="4.46" fill="rgb(204, 122, 114)"/>
<rect x="1279.31" y="272.92" width="37.43" height="4.46" fill="rgb(173, 147, 134)"/>
<rect x="1279.31" y="278.38" width="37.43" height="4.46" fill="rgb(204, 122, 114)"/>
<rect x="1279.31" y="283.84" width="37.43" height="4.46" fill="rgb(189, 134, 124)"/>
<rect x="1279.31" y="289.30" width="37.43" height="4.46" fill="rgb(189, 134, 124)"/>
<rect x="1279.31" y="294.76" width="37.43" height="4.46" fill="rgb(189, 134, 124)"/>
<rect x="1279.31" y="300.22" width="37.43" height="4.46" fill="rgb(173, 147, 134)"/>
<rect x="1279.31" y="305.68" width="37.43" height="4.46" fill="rgb(204, 122, 114)"/>
<rect x="1279.31" y="311.14" width="37.43" height="4.46" fill="rgb(173, 147, 134)"/>
<rect x="1279.31" y="316.60" width="37.43" height="4.46" fill="rgb(173, 147, 134)"/>
<rect x="1279.31" y="322.06" width="37.43" height="4.46" fill="rgb(90, 165, 214)"/>
<rect x="1279.31" y="327.52" width="37.43" height="4.46" fill="rgb(90, 165, 214)"/>
<rect x="1279.31" y="332.98" width="37.43" height="4.46" fill="rgb(90, 165, 214)"/>
<rect x="1279.31" y="338.44" width="37.43" height="4.46" fill="rgb(90, 165, 214)"/>
<rect x="1279.31" y="343.90" width="37.43" height="4.46" fill="rgb(90, 165, 214)"/>
<rect x="1279.31" y="349.36" width="37.43" height="4.46" fill="rgb(90, 165, 214)"/>
<rect x="1279.31" y="354.82" width="37.43" height="4.46" fill="rgb(90, 165, 214)"/>
<text transform="translate(1014.6 181.6) rotate(-45)" font-size="9.2" fill="#444">01.01.2024</text>
<text transform="translate(1053.2 181.6) rotate(-45)" font-size="9.2" fill="#444">02.01.2024</text>
<text transform="translate(1091.9 181.6) rotate(-45)" font-size="9.2" fill="#444">03.01.2024</text>
<text transform="translate(1130.5 181.6) rotate(-45)" font-size="9.2" fill="#444">04.01.2024</text>
<text transform="translate(1169.1 181.6) rotate(-45)" font-size="9.2" fill="#444">05.01.2024</text>
<text transform="translate(1207.8 181.6) rotate(-45)" font-size="9.2" fill="#444">06.01.2024</text>
<text transform="translate(1246.4 181.6) rotate(-45)" font-size="9.2" fill="#444">07.01.2024</text>
<text transform="translate(1285.0 181.6) rotate(-45)" font-size="9.2" fill="#444">08.01.2024</text>
<text x="1003.5" y="237.4" font-size="10" fill="#222" text-anchor="end">00</text>
<text x="1003.5" y="259.2" font-size="10" fill="#222" text-anchor="end">04</text>
<text x="1003.5" y="281.1" font-size="10" fill="#222" text-anchor="end">08</text>
<text x="1003.5" y="302.9" font-size="10" fill="#222" text-anchor="end">12</text>
<text x="1003.5" y="324.8" font-size="10" fill="#222" text-anchor="end">16</text>
<text x="1003.5" y="346.6" font-size="10" fill="#222" text-anchor="end">21</text>
<text x="1012.5" y="372.5" font-size="9.5" fill="#333">Minimal value</text>
<rect x="1008.3" y="379" width="386" height="13" fill="url(#g3)"/>
<rect x="1007" y="212" width="400" height="10" rx="5" fill="#f3f3f3"/>
<rect x="1007" y="212" width="175" height="10" fill="#d9d9d9"/>
<circle cx="1007.9" cy="216.8" r="12.9" fill="#d9d9d9" stroke="#fff" stroke-width=".7"/>
<path d="M1006.1 211.2v11M1009.6999999999999 211.2v11" stroke="#a2a2a2" stroke-width="1.5"/>
<circle cx="1181.8" cy="216.8" r="12.9" fill="#d9d9d9" stroke="#fff" stroke-width=".7"/>
<path d="M1180.0 211.2v11M1183.6 211.2v11" stroke="#a2a2a2" stroke-width="1.5"/>
</g>
<rect x="239" y="485" width="1096" height="10" rx="5" fill="#f3f3f3"/>
<rect x="239" y="485" width="363" height="10" fill="#d9d9d9"/>
<circle cx="239.5" cy="490" r="12.9" fill="#d9d9d9" stroke="#fff" stroke-width=".7"/>
<path d="M237.7 484.5v11M241.3 484.5v11" stroke="#a2a2a2" stroke-width="1.5"/>
<circle cx="602.2" cy="490" r="12.9" fill="#d9d9d9" stroke="#fff" stroke-width=".7"/>
<path d="M600.4000000000001 484.5v11M604.0 484.5v11" stroke="#a2a2a2" stroke-width="1.5"/>
<line x1="381.0" y1="507" x2="381.0" y2="758" stroke="#000" stroke-opacity=".13" stroke-width="1"/>
<line x1="522.5" y1="507" x2="522.5" y2="758" stroke="#000" stroke-opacity=".13" stroke-width="1"/>
<line x1="663.9" y1="507" x2="663.9" y2="758" stroke="#000" stroke-opacity=".13" stroke-width="1"/>
<line x1="805.3" y1="507" x2="805.3" y2="758" stroke="#000" stroke-opacity=".13" stroke-width="1"/>
<line x1="946.8" y1="507" x2="946.8" y2="758" stroke="#000" stroke-opacity=".13" stroke-width="1"/>
<line x1="1088.2" y1="507" x2="1088.2" y2="758" stroke="#000" stroke-opacity=".13" stroke-width="1"/>
<line x1="1229.6" y1="507" x2="1229.6" y2="758" stroke="#000" stroke-opacity=".13" stroke-width="1"/>
<g clip-path="url(#cp)">
<path d="M239.6 666.6 L245.5 666.6 L245.5 658.6 L251.4 658.6 L251.4 628.6 L257.3 628.6 L257.3 663.7 L263.2 663.7 L263.2 660.5 L269.1 660.5 L269.1 657.3 L275.0 657.3 L275.0 630.9 L280.9 630.9 L280.9 642.0 L286.7 642.0 L286.7 638.8 L292.6 638.8 L292.6 610.7 L298.5 610.7 L298.5 610.7 L304.4 610.7 L304.4 593.2 L310.3 593.2 L310.3 612.3 L316.2 612.3 L316.2 636.3 L322.1 636.3 L322.1 602.1 L328.0 602.1 L328.0 645.2 L333.9 645.2 L333.9 656.4 L339.8 656.4 L339.8 654.2 L345.7 654.2 L345.7 672.3 L351.6 672.3 L351.6 682.9 L357.5 682.9 L357.5 666.9 L363.4 666.9 L363.4 674.9 L369.2 674.9 L369.2 651.0 L375.1 651.0 L375.1 673.9 L381.0 673.9 L381.0 683.5 L386.9 683.5 L386.9 667.6 L392.8 667.6 L392.8 671.7 L398.7 671.7 L398.7 689.9 L404.6 689.9 L404.6 687.3 L410.5 687.3 L410.5 680.3 L416.4 680.3 L416.4 674.9 L422.3 674.9 L422.3 697.9 L428.2 697.9 L428.2 693.7 L434.1 693.7 L434.1 652.6 L440.0 652.6 L440.0 649.4 L445.9 649.4 L445.9 618.1 L451.7 618.1 L451.7 580.7 L457.6 580.7 L457.6 602.8 L463.5 602.8 L463.5 592.6 L469.4 592.6 L469.4 596.7 L475.3 596.7 L475.3 594.1 L481.2 594.1 L481.2 636.6 L487.1 636.6 L487.1 622.2 L493.0 622.2 L493.0 612.7 L498.9 612.7 L498.9 623.8 L504.8 623.8 L504.8 595.7 L510.7 595.7 L510.7 567.0 L516.6 567.0 L516.6 603.7 L522.5 603.7 L522.5 581.4 L528.4 581.4 L528.4 597.3 L534.2 597.3 L534.2 598.3 L540.1 598.3 L540.1 662.1 L546.0 662.1 L546.0 630.2 L551.9 630.2 L551.9 613.3 L557.8 613.3 L557.8 624.5 L563.7 624.5 L563.7 576.0 L569.6 576.0 L569.6 619.7 L575.5 619.7 L575.5 638.2 L581.4 638.2 L581.4 628.6 L587.3 628.6 L587.3 636.6 L593.2 636.6 L593.2 630.2 L599.1 630.2 L599.1 656.4 L605.0 656.4 L605.0 668.5 L610.9 668.5 L610.9 679.4 L616.7 679.4 L616.7 640.4 L622.6 640.4 L622.6 645.2 L628.5 645.2 L628.5 550.4 L634.4 550.4 L634.4 634.0 L640.3 634.0 L640.3 656.4 L646.2 656.4 L646.2 673.9 L652.1 673.9 L652.1 635.0 L658.0 635.0 L658.0 637.2 L663.9 637.2 L663.9 652.6 L669.8 652.6 L669.8 646.8 L675.7 646.8 L675.7 643.0 L681.6 643.0 L681.6 647.4 L687.5 647.4 L687.5 647.4 L693.4 647.4 L693.4 670.7 L699.2 670.7 L699.2 659.6 L705.1 659.6 L705.1 675.5 L711.0 675.5 L711.0 665.0 L716.9 665.0 L716.9 663.7 L722.8 663.7 L722.8 672.3 L728.7 672.3 L728.7 684.5 L734.6 684.5 L734.6 670.1 L740.5 670.1 L740.5 693.1 L746.4 693.1 L746.4 690.9 L752.3 690.9 L752.3 704.3 L758.2 704.3 L758.2 689.9 L764.1 689.9 L764.1 688.9 L770.0 688.9 L770.0 703.6 L775.9 703.6 L775.9 701.7 L781.7 701.7 L781.7 696.3 L787.6 696.3 L787.6 715.4 L793.5 715.4 L793.5 710.6 L799.4 710.6 L799.4 659.6 L805.3 659.6 L805.3 695.3 L811.2 695.3 L811.2 725.0 L817.1 725.0 L817.1 736.2 L823.0 736.2 L823.0 718.6 L828.9 718.6 L828.9 720.9 L834.8 720.9 L834.8 705.9 L840.7 705.9 L840.7 666.0 L846.6 666.0 L846.6 705.9 L852.5 705.9 L852.5 666.0 L858.4 666.0 L858.4 691.5 L864.2 691.5 L864.2 696.3 L870.1 696.3 L870.1 710.6 L876.0 710.6 L876.0 706.8 L881.9 706.8 L881.9 733.0 L887.8 733.0 L887.8 709.0 L893.7 709.0 L893.7 652.6 L899.6 652.6 L899.6 661.2 L905.5 661.2 L905.5 678.7 L911.4 678.7 L911.4 710.6 L917.3 710.6 L917.3 696.3 L923.2 696.3 L923.2 696.3 L929.1 696.3 L929.1 701.1 L935.0 701.1 L935.0 697.2 L940.9 697.2 L940.9 678.1 L946.8 678.1 L946.8 725.0 L952.6 725.0 L952.6 729.2 L958.5 729.2 L958.5 704.3 L964.4 704.3 L964.4 714.5 L970.3 714.5 L970.3 700.4 L976.2 700.4 L976.2 728.2 L982.1 728.2 L982.1 714.5 L988.0 714.5 L988.0 716.1 L993.9 716.1 L993.9 717.0 L999.8 717.0 L999.8 717.0 L1005.7 717.0 L1005.7 709.0 L1011.6 709.0 L1011.6 719.6 L1017.5 719.6 L1017.5 729.2 L1023.4 729.2 L1023.4 717.7 L1029.3 717.7 L1029.3 725.0 L1035.1 725.0 L1035.1 720.2 L1041.0 720.2 L1041.0 729.8 L1046.9 729.8 L1046.9 739.4 L1052.8 739.4 L1052.8 747.3 L1058.7 747.3 L1058.7 736.2 L1064.6 736.2 L1064.6 715.4 L1070.5 715.4 L1070.5 688.9 L1076.4 688.9 L1076.4 673.0 L1082.3 673.0 L1082.3 661.8 L1088.2 661.8 L1088.2 683.5 L1094.1 683.5 L1094.1 691.5 L1100.0 691.5 L1100.0 733.6 L1105.9 733.6 L1105.9 715.4 L1111.8 715.4 L1111.8 695.3 L1117.6 695.3 L1117.6 709.0 L1123.5 709.0 L1123.5 710.6 L1129.4 710.6 L1129.4 712.2 L1135.3 712.2 L1135.3 691.5 L1141.2 691.5 L1141.2 697.2 L1147.1 697.2 L1147.1 709.0 L1153.0 709.0 L1153.0 678.1 L1158.9 678.1 L1158.9 697.9 L1164.8 697.9 L1164.8 664.4 L1170.7 664.4 L1170.7 656.4 L1176.6 656.4 L1176.6 676.5 L1182.5 676.5 L1182.5 693.1 L1188.4 693.1 L1188.4 689.9 L1194.3 689.9 L1194.3 700.4 L1200.1 700.4 L1200.1 689.3 L1206.0 689.3 L1206.0 690.9 L1211.9 690.9 L1211.9 702.7 L1217.8 702.7 L1217.8 713.2 L1223.7 713.2 L1223.7 691.5 L1229.6 691.5 L1229.6 729.2 L1235.5 729.2 L1235.5 672.3 L1241.4 672.3 L1241.4 688.3 L1247.3 688.3 L1247.3 717.0 L1253.2 717.0 L1253.2 689.3 L1259.1 689.3 L1259.1 683.5 L1265.0 683.5 L1265.0 680.3 L1270.9 680.3 L1270.9 675.5 L1276.8 675.5 L1276.8 669.2 L1282.6 669.2 L1282.6 676.2 L1288.5 676.2 L1288.5 721.8 L1294.4 721.8 L1294.4 701.7 L1300.3 701.7 L1300.3 695.3 L1306.2 695.3 L1306.2 702.7 L1312.1 702.7 L1312.1 714.8 L1318.0 714.8 L1318.0 657.0 L1334.5 657.0 L1334.5 758.5 L239.6 758.5 Z" fill="#9caf18" fill-opacity=".11"/>
<path d="M239.6 666.6 L245.5 666.6 L245.5 658.6 L251.4 658.6 L251.4 628.6 L257.3 628.6 L257.3 663.7 L263.2 663.7 L263.2 660.5 L269.1 660.5 L269.1 657.3 L275.0 657.3 L275.0 630.9 L280.9 630.9 L280.9 642.0 L286.7 642.0 L286.7 638.8 L292.6 638.8 L292.6 610.7 L298.5 610.7 L298.5 610.7 L304.4 610.7 L304.4 593.2 L310.3 593.2 L310.3 612.3 L316.2 612.3 L316.2 636.3 L322.1 636.3 L322.1 602.1 L328.0 602.1 L328.0 645.2 L333.9 645.2 L333.9 656.4 L339.8 656.4 L339.8 654.2 L345.7 654.2 L345.7 672.3 L351.6 672.3 L351.6 682.9 L357.5 682.9 L357.5 666.9 L363.4 666.9 L363.4 674.9 L369.2 674.9 L369.2 651.0 L375.1 651.0 L375.1 673.9 L381.0 673.9 L381.0 683.5 L386.9 683.5 L386.9 667.6 L392.8 667.6 L392.8 671.7 L398.7 671.7 L398.7 689.9 L404.6 689.9 L404.6 687.3 L410.5 687.3 L410.5 680.3 L416.4 680.3 L416.4 674.9 L422.3 674.9 L422.3 697.9 L428.2 697.9 L428.2 693.7 L434.1 693.7 L434.1 652.6 L440.0 652.6 L440.0 649.4 L445.9 649.4 L445.9 618.1 L451.7 618.1 L451.7 580.7 L457.6 580.7 L457.6 602.8 L463.5 602.8 L463.5 592.6 L469.4 592.6 L469.4 596.7 L475.3 596.7 L475.3 594.1 L481.2 594.1 L481.2 636.6 L487.1 636.6 L487.1 622.2 L493.0 622.2 L493.0 612.7 L498.9 612.7 L498.9 623.8 L504.8 623.8 L504.8 595.7 L510.7 595.7 L510.7 567.0 L516.6 567.0 L516.6 603.7 L522.5 603.7 L522.5 581.4 L528.4 581.4 L528.4 597.3 L534.2 597.3 L534.2 598.3 L540.1 598.3 L540.1 662.1 L546.0 662.1 L546.0 630.2 L551.9 630.2 L551.9 613.3 L557.8 613.3 L557.8 624.5 L563.7 624.5 L563.7 576.0 L569.6 576.0 L569.6 619.7 L575.5 619.7 L575.5 638.2 L581.4 638.2 L581.4 628.6 L587.3 628.6 L587.3 636.6 L593.2 636.6 L593.2 630.2 L599.1 630.2 L599.1 656.4 L605.0 656.4 L605.0 668.5 L610.9 668.5 L610.9 679.4 L616.7 679.4 L616.7 640.4 L622.6 640.4 L622.6 645.2 L628.5 645.2 L628.5 550.4 L634.4 550.4 L634.4 634.0 L640.3 634.0 L640.3 656.4 L646.2 656.4 L646.2 673.9 L652.1 673.9 L652.1 635.0 L658.0 635.0 L658.0 637.2 L663.9 637.2 L663.9 652.6 L669.8 652.6 L669.8 646.8 L675.7 646.8 L675.7 643.0 L681.6 643.0 L681.6 647.4 L687.5 647.4 L687.5 647.4 L693.4 647.4 L693.4 670.7 L699.2 670.7 L699.2 659.6 L705.1 659.6 L705.1 675.5 L711.0 675.5 L711.0 665.0 L716.9 665.0 L716.9 663.7 L722.8 663.7 L722.8 672.3 L728.7 672.3 L728.7 684.5 L734.6 684.5 L734.6 670.1 L740.5 670.1 L740.5 693.1 L746.4 693.1 L746.4 690.9 L752.3 690.9 L752.3 704.3 L758.2 704.3 L758.2 689.9 L764.1 689.9 L764.1 688.9 L770.0 688.9 L770.0 703.6 L775.9 703.6 L775.9 701.7 L781.7 701.7 L781.7 696.3 L787.6 696.3 L787.6 715.4 L793.5 715.4 L793.5 710.6 L799.4 710.6 L799.4 659.6 L805.3 659.6 L805.3 695.3 L811.2 695.3 L811.2 725.0 L817.1 725.0 L817.1 736.2 L823.0 736.2 L823.0 718.6 L828.9 718.6 L828.9 720.9 L834.8 720.9 L834.8 705.9 L840.7 705.9 L840.7 666.0 L846.6 666.0 L846.6 705.9 L852.5 705.9 L852.5 666.0 L858.4 666.0 L858.4 691.5 L864.2 691.5 L864.2 696.3 L870.1 696.3 L870.1 710.6 L876.0 710.6 L876.0 706.8 L881.9 706.8 L881.9 733.0 L887.8 733.0 L887.8 709.0 L893.7 709.0 L893.7 652.6 L899.6 652.6 L899.6 661.2 L905.5 661.2 L905.5 678.7 L911.4 678.7 L911.4 710.6 L917.3 710.6 L917.3 696.3 L923.2 696.3 L923.2 696.3 L929.1 696.3 L929.1 701.1 L935.0 701.1 L935.0 697.2 L940.9 697.2 L940.9 678.1 L946.8 678.1 L946.8 725.0 L952.6 725.0 L952.6 729.2 L958.5 729.2 L958.5 704.3 L964.4 704.3 L964.4 714.5 L970.3 714.5 L970.3 700.4 L976.2 700.4 L976.2 728.2 L982.1 728.2 L982.1 714.5 L988.0 714.5 L988.0 716.1 L993.9 716.1 L993.9 717.0 L999.8 717.0 L999.8 717.0 L1005.7 717.0 L1005.7 709.0 L1011.6 709.0 L1011.6 719.6 L1017.5 719.6 L1017.5 729.2 L1023.4 729.2 L1023.4 717.7 L1029.3 717.7 L1029.3 725.0 L1035.1 725.0 L1035.1 720.2 L1041.0 720.2 L1041.0 729.8 L1046.9 729.8 L1046.9 739.4 L1052.8 739.4 L1052.8 747.3 L1058.7 747.3 L1058.7 736.2 L1064.6 736.2 L1064.6 715.4 L1070.5 715.4 L1070.5 688.9 L1076.4 688.9 L1076.4 673.0 L1082.3 673.0 L1082.3 661.8 L1088.2 661.8 L1088.2 683.5 L1094.1 683.5 L1094.1 691.5 L1100.0 691.5 L1100.0 733.6 L1105.9 733.6 L1105.9 715.4 L1111.8 715.4 L1111.8 695.3 L1117.6 695.3 L1117.6 709.0 L1123.5 709.0 L1123.5 710.6 L1129.4 710.6 L1129.4 712.2 L1135.3 712.2 L1135.3 691.5 L1141.2 691.5 L1141.2 697.2 L1147.1 697.2 L1147.1 709.0 L1153.0 709.0 L1153.0 678.1 L1158.9 678.1 L1158.9 697.9 L1164.8 697.9 L1164.8 664.4 L1170.7 664.4 L1170.7 656.4 L1176.6 656.4 L1176.6 676.5 L1182.5 676.5 L1182.5 693.1 L1188.4 693.1 L1188.4 689.9 L1194.3 689.9 L1194.3 700.4 L1200.1 700.4 L1200.1 689.3 L1206.0 689.3 L1206.0 690.9 L1211.9 690.9 L1211.9 702.7 L1217.8 702.7 L1217.8 713.2 L1223.7 713.2 L1223.7 691.5 L1229.6 691.5 L1229.6 729.2 L1235.5 729.2 L1235.5 672.3 L1241.4 672.3 L1241.4 688.3 L1247.3 688.3 L1247.3 717.0 L1253.2 717.0 L1253.2 689.3 L1259.1 689.3 L1259.1 683.5 L1265.0 683.5 L1265.0 680.3 L1270.9 680.3 L1270.9 675.5 L1276.8 675.5 L1276.8 669.2 L1282.6 669.2 L1282.6 676.2 L1288.5 676.2 L1288.5 721.8 L1294.4 721.8 L1294.4 701.7 L1300.3 701.7 L1300.3 695.3 L1306.2 695.3 L1306.2 702.7 L1312.1 702.7 L1312.1 714.8 L1318.0 714.8 L1318.0 657.0 L1334.5 657.0" fill="none" stroke="#9caf18" stroke-width="1.8" stroke-linejoin="miter"/>
<path d="M239.5 694.0 C244.1 694.2 257.4 694.3 266.9 694.7 C276.5 695.1 285.3 696.3 295.6 696.3 C305.9 696.3 318.9 694.6 327.6 694.7 C336.2 694.8 338.6 696.6 346.7 696.9 C354.8 697.2 366.3 696.0 375.4 696.3 C384.6 696.5 392.5 698.0 400.5 698.5 C408.6 699.1 417.2 699.7 422.9 699.5 C428.6 699.3 430.2 698.3 434.0 697.2 C437.8 696.2 441.1 694.1 445.2 693.1 C449.3 692.1 450.9 691.9 458.0 691.5 C465.0 691.1 476.9 691.2 486.7 690.9 C496.5 690.5 507.7 689.6 515.4 689.3 C523.1 688.9 526.4 688.8 532.0 688.9 C537.5 689.1 539.8 689.8 547.9 690.2 C556.1 690.6 571.7 691.7 579.8 691.5 C588.0 691.3 590.4 689.8 595.8 689.3 C601.2 688.7 606.3 688.2 611.7 688.3 C617.2 688.4 622.3 689.1 627.7 689.9 C633.1 690.7 638.5 692.4 643.7 692.8 C648.8 693.1 650.1 691.9 658.0 692.1 C665.9 692.3 679.1 693.7 689.9 694.0 C700.8 694.4 712.1 694.4 721.8 694.0 C731.6 693.7 740.3 692.4 747.4 692.1 C754.4 691.9 757.9 691.9 763.3 692.4 C768.7 693.0 773.9 694.1 779.3 695.3 C784.7 696.5 791.9 698.8 795.2 699.5 C798.6 700.2 795.6 700.0 799.0 699.5 C802.4 698.9 806.8 697.1 815.0 696.3 C823.1 695.5 836.0 695.5 846.9 694.7 C857.7 693.9 870.6 692.3 878.8 691.5 C886.9 690.7 889.3 689.7 894.7 690.2 C900.2 690.8 905.3 693.4 910.7 694.7 C916.1 696.0 921.5 696.8 926.7 697.9 C931.8 699.0 935.8 700.8 941.0 701.1 C946.2 701.3 948.8 699.5 957.0 699.5 C965.1 699.5 979.6 701.0 988.9 701.1 C998.1 701.2 1004.2 700.7 1011.2 700.1 C1018.3 699.6 1023.3 698.1 1030.4 697.9 C1037.4 697.7 1046.2 698.4 1052.7 698.8 C1059.2 699.3 1063.7 700.2 1068.7 700.4 C1073.6 700.7 1077.0 699.8 1082.0 700.4 C1087.0 701.1 1092.5 703.0 1098.0 704.3 C1103.4 705.6 1108.5 706.7 1113.9 708.1 C1119.3 709.4 1124.4 711.2 1129.9 712.2 C1135.3 713.3 1140.4 713.8 1145.8 714.5 C1151.3 715.2 1156.4 715.7 1161.8 716.4 C1167.2 717.1 1172.3 718.3 1177.7 718.6 C1183.2 718.9 1188.3 718.4 1193.7 718.0 C1199.1 717.6 1204.5 716.7 1209.7 716.4 C1214.8 716.1 1216.1 716.2 1224.0 716.4 C1231.9 716.6 1247.8 717.0 1255.9 717.7 C1264.1 718.3 1267.5 719.1 1271.9 720.2 C1276.2 721.3 1277.6 723.2 1281.4 724.0 C1285.2 724.9 1285.3 725.1 1294.2 725.3 C1303.2 725.5 1327.3 725.3 1334.1 725.3" fill="none" stroke="#f39406" stroke-width="1.8"/>
<path d="M239.6 658.6 L245.5 647.4 L251.4 577.6 L257.3 694.0 L263.2 568.6 L269.1 721.8 L275.0 537.7 L280.9 686.1 L286.7 596.7 L292.6 650.0 L298.5 603.7 L304.4 619.7 L310.3 666.0 L316.2 579.8 L322.1 681.9 L328.0 576.6 L333.9 681.3 L339.8 549.5 L345.7 708.1 L351.6 537.7 L357.5 694.0 L363.4 567.7 L369.2 650.0 L375.1 627.7 L381.0 614.3 L386.9 667.6 L392.8 585.5 L398.7 708.1 L404.6 544.7 L410.5 704.3 L416.4 565.4 L422.3 700.4 L428.2 546.3 L434.1 702.7 L440.0 565.4 L445.9 681.9 L451.7 601.5 L457.6 663.4 L463.5 608.5 L469.4 627.0 L475.3 630.9 L481.2 635.6 L487.1 632.4 L493.0 633.4 L498.9 627.0 L504.8 624.5 L510.7 650.0 L516.6 560.6 L522.5 719.6 L528.4 543.1 L534.2 704.3 L540.1 564.8 L546.0 681.3 L551.9 597.3 L557.8 665.3 L563.7 598.9 L569.6 635.6 L575.5 653.2 L581.4 579.8 L587.3 682.9 L593.2 558.4 L599.1 697.9 L605.0 557.4 L610.9 710.6 L616.7 592.6 L622.6 656.4 L628.5 610.1 L634.4 627.7 L640.3 648.4 L646.2 580.4 L652.1 691.5 L658.0 544.7 L663.9 717.0 L669.8 553.6 L675.7 688.3 L681.6 559.0 L687.5 700.4 L693.4 560.0 L699.2 701.7 L705.1 548.5 L711.0 702.7 L716.9 577.2 L722.8 694.7 L728.7 567.0 L734.6 684.5 L740.5 551.1 L746.4 693.1 L752.3 595.7 L758.2 645.2 L764.1 656.4 L770.0 582.3 L775.9 704.3 L781.7 549.5 L787.6 699.5 L793.5 536.7 L799.4 701.1 L805.3 557.4 L811.2 684.5 L817.1 579.8 L823.0 688.3 L828.9 592.6 L834.8 659.6 L840.7 610.1 L846.6 622.9 L852.5 666.0 L858.4 591.9 L864.2 691.5 L870.1 549.5 L876.0 718.6 L881.9 552.0 L887.8 666.0 L893.7 640.4 L899.6 589.4 L905.5 691.5 L911.4 547.2 L917.3 704.3 L923.2 529.4 L929.1 713.8 L935.0 544.0 L940.9 709.0 L946.8 555.9 L952.6 671.7 L958.5 587.8 L964.4 658.9 L970.3 592.6 L976.2 640.4 L982.1 625.4 L988.0 619.0 L993.9 659.6 L999.8 603.7 L1005.7 667.6 L1011.6 563.2 L1017.5 701.7 L1023.4 544.7 L1029.3 720.2 L1035.1 563.2 L1041.0 713.2 L1046.9 556.8 L1052.8 708.1 L1058.7 554.9 L1064.6 694.7 L1070.5 559.0 L1076.4 691.5 L1082.3 579.8 L1088.2 653.2 L1094.1 617.4 L1100.0 626.1 L1105.9 645.2 L1111.8 600.5 L1117.6 681.3 L1123.5 582.3 L1129.4 680.3 L1135.3 588.7 L1141.2 693.1 L1147.1 553.6 L1153.0 683.5 L1158.9 554.9 L1164.8 710.6 L1170.7 547.9 L1176.6 720.2 L1182.5 569.6 L1188.4 669.2 L1194.3 627.7 L1200.1 611.1 L1206.0 658.0 L1211.9 571.8 L1217.8 691.5 L1223.7 560.0 L1229.6 705.9 L1235.5 536.7 L1241.4 709.0 L1247.3 559.0 L1253.2 662.8 L1259.1 609.5 L1265.0 611.7 L1270.9 669.2 L1276.8 583.6 L1282.6 682.6 L1288.5 551.1 L1294.4 723.4 L1300.3 558.1 L1306.2 685.1 L1312.1 596.4 L1318.0 594.8 L1334.5 595.1" fill="none" stroke="#fb5b5b" stroke-width="1.7" stroke-linejoin="round"/>
<path d="M239.5 639.5 C240.9 639.0 244.7 637.0 247.8 636.6 C250.8 636.2 253.8 640.3 257.3 637.2 C260.9 634.2 264.7 619.8 268.5 618.7 C272.3 617.6 275.6 629.3 279.7 630.9 C283.8 632.4 288.4 626.3 292.4 627.7 C296.5 629.0 300.1 640.2 303.6 638.8 C307.1 637.5 309.1 621.1 313.2 619.7 C317.3 618.2 322.9 630.1 327.6 630.2 C332.2 630.4 334.9 620.0 340.3 620.6 C345.7 621.3 354.6 633.8 359.5 634.0 C364.4 634.3 366.3 623.3 369.0 621.9 C371.8 620.6 373.4 627.0 375.4 626.1 C377.4 625.1 378.9 622.2 380.7 616.5 C382.6 610.8 384.2 599.6 386.2 592.6 C388.2 585.5 390.4 578.3 392.6 575.0 C394.7 571.7 396.8 572.9 398.9 573.4 C401.1 573.9 402.9 577.9 405.3 578.2 C407.8 578.5 410.9 576.1 413.3 575.0 C415.7 573.9 417.2 573.1 419.7 571.8 C422.1 570.6 424.9 569.4 427.7 567.7 C430.4 565.9 433.5 562.4 435.6 561.6 C437.8 560.8 438.7 560.6 440.4 563.2 C442.2 565.7 444.0 571.6 445.9 576.6 C447.8 581.6 449.3 588.2 451.6 592.6 C453.9 596.9 457.4 602.7 459.6 602.1 C461.7 601.6 462.5 594.4 464.4 589.4 C466.3 584.4 468.8 574.9 470.7 572.8 C472.6 570.6 473.6 573.2 475.5 576.6 C477.4 580.0 478.9 590.2 481.9 592.6 C484.9 594.9 489.8 590.2 493.1 590.3 C496.3 590.4 498.6 592.2 501.1 593.2 C503.5 594.2 505.0 597.0 507.4 596.4 C509.9 595.7 512.9 589.5 515.4 589.4 C518.0 589.3 520.1 593.8 522.4 595.7 C524.7 597.6 526.6 600.8 528.8 600.5 C530.9 600.3 533.0 596.6 535.1 594.1 C537.3 591.7 539.1 587.0 541.5 586.2 C544.0 585.4 546.8 586.9 549.5 589.4 C552.2 591.8 555.0 599.4 557.5 600.5 C559.9 601.6 561.2 597.1 563.9 595.7 C566.6 594.4 570.5 591.2 573.4 592.6 C576.4 593.9 579.0 604.8 581.4 603.7 C583.9 602.6 585.9 589.4 587.8 586.2 C589.7 582.9 590.4 580.8 592.6 584.6 C594.8 588.4 597.6 600.4 600.6 608.5 C603.6 616.7 607.2 630.5 610.1 632.4 C613.1 634.3 616.0 623.2 618.1 619.7 C620.3 616.2 621.3 610.3 622.9 611.7 C624.5 613.1 625.5 628.7 627.7 627.7 C629.9 626.6 633.2 610.5 635.7 605.3 C638.1 600.2 639.9 599.5 642.1 597.3 C644.2 595.2 646.5 592.8 648.4 592.6 C650.3 592.3 651.3 591.9 653.2 595.7 C655.1 599.5 658.0 610.6 659.6 614.9 C661.2 619.2 661.2 624.0 662.8 621.3 C664.4 618.6 667.0 603.0 669.2 598.9 C671.3 594.9 673.4 598.5 675.6 597.3 C677.7 596.1 679.5 592.6 681.9 591.9 C684.4 591.2 687.7 593.6 689.9 593.2 C692.1 592.8 693.2 592.2 694.7 589.4 C696.2 586.5 697.2 575.0 698.9 576.6 C700.5 578.2 702.3 594.9 704.3 598.9 C706.3 603.0 708.2 598.6 710.7 600.5 C713.1 602.4 716.5 608.8 718.6 610.1 C720.8 611.5 721.7 611.5 723.4 608.5 C725.2 605.5 727.0 594.2 728.9 592.6 C730.8 590.9 732.6 599.8 734.6 598.9 C736.5 598.1 738.3 588.9 740.3 587.8 C742.3 586.7 744.4 590.9 746.4 592.6 C748.4 594.2 750.4 591.4 752.1 597.3 C753.9 603.3 755.0 618.2 756.9 627.7 C758.8 637.2 761.2 647.0 763.3 653.2 C765.5 659.4 767.5 666.0 769.7 664.4 C771.9 662.7 773.6 650.9 776.1 643.6 C778.5 636.3 781.4 628.1 784.1 621.3 C786.8 614.5 789.3 607.3 792.0 603.7 C794.8 600.2 798.0 603.0 800.0 600.5 C802.0 598.1 802.1 593.5 803.8 589.4 C805.5 585.2 808.0 578.4 810.2 576.0 C812.3 573.5 814.4 572.7 816.6 575.0 C818.7 577.3 820.5 585.0 822.9 589.4 C825.4 593.7 827.9 597.0 830.9 600.5 C833.9 604.1 837.2 607.4 840.5 610.1 C843.7 612.8 847.1 615.4 850.1 616.5 C853.0 617.6 855.6 617.0 858.0 616.5 C860.5 615.9 862.3 610.3 864.4 613.3 C866.6 616.3 868.9 627.8 870.8 634.0 C872.7 640.3 873.8 649.7 875.6 650.0 C877.4 650.3 879.7 635.1 881.3 635.6 C883.0 636.2 883.7 645.9 885.2 653.2 C886.6 660.5 888.3 672.5 890.0 678.7 C891.6 685.0 892.8 689.4 894.7 689.9 C896.6 690.4 899.5 687.6 901.1 681.9 C902.8 676.2 902.7 662.4 904.3 656.4 C905.9 650.4 906.9 649.5 910.7 646.8 C914.5 644.1 922.3 643.4 926.7 640.4 C931.0 637.4 933.0 631.7 936.2 629.3 C939.5 626.8 943.9 627.2 945.8 626.1 C947.7 625.0 946.0 625.3 947.4 622.9 C948.7 620.4 950.0 614.4 953.8 611.7 C957.6 609.0 964.8 609.0 969.7 606.9 C974.6 604.9 978.4 601.5 982.5 599.6 C986.6 597.7 990.7 595.6 993.7 595.7 C996.6 595.9 997.9 598.6 1000.0 600.5 C1002.2 602.4 1003.4 605.7 1006.4 606.9 C1009.4 608.2 1014.6 606.8 1017.6 607.9 C1020.6 609.0 1022.0 610.3 1024.0 613.3 C1026.0 616.3 1027.5 626.5 1029.4 625.4 C1031.3 624.3 1032.8 610.8 1035.1 606.9 C1037.5 603.1 1040.1 603.6 1043.1 602.8 C1046.1 602.0 1049.7 605.0 1052.7 602.1 C1055.7 599.3 1058.2 589.7 1060.7 586.2 C1063.1 582.6 1064.6 582.6 1067.1 581.4 C1069.5 580.2 1072.3 580.1 1075.0 579.1 C1077.8 578.2 1081.0 578.3 1083.0 576.0 C1085.0 573.6 1085.1 567.8 1086.8 565.4 C1088.5 563.1 1087.5 562.8 1093.2 562.2 C1098.9 561.7 1114.6 561.7 1120.3 562.2 C1126.0 562.8 1124.5 561.6 1126.7 565.4 C1128.9 569.2 1130.9 578.8 1133.1 584.6 C1135.2 590.4 1137.3 597.7 1139.4 599.6 C1141.6 601.5 1143.9 596.9 1145.8 595.7 C1147.7 594.6 1149.0 592.0 1150.6 592.6 C1152.2 593.1 1153.5 591.3 1155.4 598.9 C1157.3 606.5 1159.6 626.4 1161.8 637.2 C1164.0 648.1 1166.0 655.7 1168.2 662.8 C1170.3 669.8 1172.4 675.0 1174.6 678.7 C1176.7 682.4 1178.2 681.8 1180.9 684.5 C1183.7 687.2 1187.3 691.6 1190.5 694.7 C1193.8 697.8 1197.1 702.9 1200.1 702.7 C1203.1 702.4 1205.4 693.4 1208.1 693.1 C1210.8 692.8 1213.6 699.7 1216.0 701.1 C1218.5 702.4 1221.1 702.2 1222.4 701.1 C1223.8 700.0 1223.2 698.8 1224.0 694.7 C1224.8 690.6 1225.6 681.7 1227.2 677.1 C1228.8 672.5 1230.9 669.5 1233.6 667.6 C1236.3 665.7 1240.2 666.2 1243.1 666.0 C1246.1 665.7 1248.4 668.6 1251.1 666.0 C1253.8 663.4 1256.7 650.1 1259.1 650.6 C1261.5 651.2 1263.3 663.8 1265.5 669.2 C1267.7 674.5 1270.0 681.9 1271.9 681.9 C1273.8 681.9 1275.0 672.4 1276.7 669.2 C1278.3 665.9 1279.5 661.7 1281.4 662.8 C1283.3 663.9 1285.9 670.7 1287.8 675.5 C1289.7 680.4 1290.7 685.8 1292.6 691.5 C1294.5 697.2 1296.5 705.4 1299.0 709.0 C1301.6 712.7 1306.2 712.5 1307.6 713.2" fill="none" stroke="#0d4a8c" stroke-width="1.8" stroke-dasharray="8 4"/>
<path d="M1243.8 723.4 L1334.5 717.0" fill="none" stroke="#0d4a8c" stroke-width="1.8" stroke-dasharray="8 4"/>
</g>
<line x1="101" y1="507" x2="101" y2="758.5" stroke="#f39406" stroke-opacity=".55" stroke-width="1.3"/>
<line x1="170.8" y1="507" x2="170.8" y2="758.5" stroke="#02428a" stroke-opacity=".5" stroke-width="1.3"/>
<line x1="239.8" y1="507" x2="239.8" y2="758.5" stroke="#9caf18" stroke-width="1.1"/>
<line x1="1335" y1="507" x2="1335" y2="758.5" stroke="#fb5b5b" stroke-opacity=".75" stroke-width="1.1"/>
<line x1="239.5" y1="758.5" x2="1335" y2="758.5" stroke="#222" stroke-width="1.3"/>
<text x="97" y="509.9" font-size="9" fill="#3a3a3a" text-anchor="end">80.0 °C</text>
<text x="97" y="560.1" font-size="9" fill="#3a3a3a" text-anchor="end">60.0 °C</text>
<text x="97" y="610.4" font-size="9" fill="#3a3a3a" text-anchor="end">40.0 °C</text>
<text x="97" y="660.6" font-size="9" fill="#3a3a3a" text-anchor="end">20.0 °C</text>
<text x="97" y="710.9" font-size="9" fill="#3a3a3a" text-anchor="end">0.0 °C</text>
<text x="97" y="761.1" font-size="9" fill="#3a3a3a" text-anchor="end">-20.0 °C</text>
<text x="167" y="509.9" font-size="9" fill="#3a3a3a" text-anchor="end">110.0 %</text>
<text x="167" y="560.1" font-size="9" fill="#3a3a3a" text-anchor="end">100.0 %</text>
<text x="167" y="610.4" font-size="9" fill="#3a3a3a" text-anchor="end">90.0 %</text>
<text x="167" y="660.6" font-size="9" fill="#3a3a3a" text-anchor="end">80.0 %</text>
<text x="167" y="710.9" font-size="9" fill="#3a3a3a" text-anchor="end">70.0 %</text>
<text x="167" y="761.1" font-size="9" fill="#3a3a3a" text-anchor="end">60.0 %</text>
<text x="235" y="512.4" font-size="9.4" fill="#3a3a3a" text-anchor="end">6.0 m/s</text>
<text x="235" y="553.9" font-size="9.4" fill="#3a3a3a" text-anchor="end">5.0 m/s</text>
<text x="235" y="595.5" font-size="9.4" fill="#3a3a3a" text-anchor="end">4.0 m/s</text>
<text x="235" y="637.0" font-size="9.4" fill="#3a3a3a" text-anchor="end">3.0 m/s</text>
<text x="235" y="678.6" font-size="9.4" fill="#3a3a3a" text-anchor="end">2.0 m/s</text>
<text x="235" y="720.1" font-size="9.4" fill="#3a3a3a" text-anchor="end">1.0 m/s</text>
<text x="235" y="761.7" font-size="9.4" fill="#3a3a3a" text-anchor="end">0.0 m/s</text>
<text x="1340" y="510.4" font-size="9.5" fill="#444">4132 KW</text>
<text x="1340" y="546.3" font-size="9.5" fill="#444">4130 KW</text>
<text x="1340" y="582.2" font-size="9.5" fill="#444">4128 KW</text>
<text x="1340" y="618.1" font-size="9.5" fill="#444">4126 KW</text>
<text x="1340" y="654.0" font-size="9.5" fill="#444">4124 KW</text>
<text x="1340" y="689.9" font-size="9.5" fill="#444">4122 KW</text>
<text x="1340" y="725.8" font-size="9.5" fill="#444">4120 KW</text>
<text x="1340" y="761.7" font-size="9.5" fill="#444">4118 KW</text>
<text transform="translate(49 632.5) rotate(-90)" font-size="11" font-weight="700" fill="#111" text-anchor="middle">Temp.</text>
<text transform="translate(119.5 632.5) rotate(-90)" font-size="11" font-weight="700" fill="#111" text-anchor="middle">Humidity</text>
<text transform="translate(189 632.5) rotate(-90)" font-size="11" font-weight="700" fill="#111" text-anchor="middle">Wind speed</text>
<text transform="translate(1401 632.5) rotate(-90)" font-size="11" font-weight="700" fill="#111" text-anchor="middle">Power</text>
<text x="310" y="773.5" font-size="13" font-weight="700" fill="#111" text-anchor="middle">Jan 2024</text>
<text x="451.4" y="773.5" font-size="12.6" fill="#444" text-anchor="middle">02 Jan</text>
<text x="592.9" y="773.5" font-size="12.6" fill="#444" text-anchor="middle">03 Jan</text>
<text x="734.3" y="773.5" font-size="12.6" fill="#444" text-anchor="middle">04 Jan</text>
<text x="875.7" y="773.5" font-size="12.6" fill="#444" text-anchor="middle">05 Jan</text>
<text x="1017.2" y="773.5" font-size="12.6" fill="#444" text-anchor="middle">06 Jan</text>
<text x="1158.6" y="773.5" font-size="12.6" fill="#444" text-anchor="middle">07 Jan</text>
<text x="1300.0" y="773.5" font-size="12.6" fill="#444" text-anchor="middle">08 Jan</text>
<rect x="448" y="777.4" width="15" height="14.6" rx="2.8" fill="#fb5b5b"/>
<text x="467.6" y="787.6" font-size="8.5" fill="#666" letter-spacing=".25" style="white-space:pre">Power  KW</text>
<rect x="592" y="777.4" width="15" height="14.6" rx="2.8" fill="#f39406"/>
<text x="611.6" y="787.6" font-size="8.5" fill="#666" letter-spacing=".25" style="white-space:pre">Temp.  °C</text>
<rect x="737" y="777.4" width="15" height="14.6" rx="2.8" fill="#02428a"/>
<text x="756.6" y="787.6" font-size="8.5" fill="#666" letter-spacing=".25" style="white-space:pre">Humidity  %</text>
<rect x="881" y="777.4" width="15" height="14.6" rx="2.8" fill="#9caf18"/>
<text x="900.6" y="787.6" font-size="8.5" fill="#666" letter-spacing=".25" style="white-space:pre">Wind speed  m/s</text>
<rect x="1026" y="777.4" width="15" height="14.6" rx="2.8" fill="#000"/>
<text x="1045.6" y="787.6" font-size="8.5" fill="#666" letter-spacing=".25" style="white-space:pre">sadf  °C</text>
<circle cx="1310.5" cy="530.8" r="15.4" fill="#6b8fdb"/><rect x="1305" y="530.1" width="11" height="1.4" fill="#b9c9ee"/>
</svg>
<div class="fab" style="left:378.6px;top:112.8px"><svg viewBox="0 0 24 24"><path fill="#111" d="M12 6v3l4-4-4-4v3c-4.42 0-8 3.58-8 8 0 1.57.46 3.03 1.24 4.26L6.7 14.8c-.45-.83-.7-1.79-.7-2.8 0-3.31 2.69-6 6-6zm6.76 1.74L17.3 9.2c.44.84.7 1.79.7 2.8 0 3.31-2.69 6-6 6v-3l-4 4 4 4v-3c4.42 0 8-3.58 8-8 0-1.57-.46-3.03-1.24-4.26z"/></svg></div>
<div class="fab" style="left:421.0px;top:112.8px"><svg viewBox="0 0 24 24"><path fill="#111" d="M13 3c-4.97 0-9 4.03-9 9H1l3.89 3.89.07.14L9 12H6c0-3.87 3.13-7 7-7s7 3.13 7 7-3.13 7-7 7c-1.93 0-3.68-.79-4.94-2.06l-1.42 1.42C8.27 19.99 10.51 21 13 21c4.97 0 9-4.03 9-9s-4.03-9-9-9zm-1 5v5l4.28 2.54.72-1.21-3.5-2.08V8H12z"/></svg></div>
<div class="fab" style="left:858.5px;top:112.8px"><svg viewBox="0 0 24 24"><path fill="#111" d="M12 6v3l4-4-4-4v3c-4.42 0-8 3.58-8 8 0 1.57.46 3.03 1.24 4.26L6.7 14.8c-.45-.83-.7-1.79-.7-2.8 0-3.31 2.69-6 6-6zm6.76 1.74L17.3 9.2c.44.84.7 1.79.7 2.8 0 3.31-2.69 6-6 6v-3l-4 4 4 4v-3c4.42 0 8-3.58 8-8 0-1.57-.46-3.03-1.24-4.26z"/></svg></div>
<div class="fab dis" style="left:900.9px;top:112.8px"><svg viewBox="0 0 24 24"><path fill="#9e9e9e" d="M13 3c-4.97 0-9 4.03-9 9H1l3.89 3.89.07.14L9 12H6c0-3.87 3.13-7 7-7s7 3.13 7 7-3.13 7-7 7c-1.93 0-3.68-.79-4.94-2.06l-1.42 1.42C8.27 19.99 10.51 21 13 21c4.97 0 9-4.03 9-9s-4.03-9-9-9zm-1 5v5l4.28 2.54.72-1.21-3.5-2.08V8H12z"/></svg></div>
<div class="fab" style="left:1337.1px;top:439.8px"><svg viewBox="0 0 24 24"><path fill="#111" d="M12 6v3l4-4-4-4v3c-4.42 0-8 3.58-8 8 0 1.57.46 3.03 1.24 4.26L6.7 14.8c-.45-.83-.7-1.79-.7-2.8 0-3.31 2.69-6 6-6zm6.76 1.74L17.3 9.2c.44.84.7 1.79.7 2.8 0 3.31-2.69 6-6 6v-3l-4 4 4 4v-3c4.42 0 8-3.58 8-8 0-1.57-.46-3.03-1.24-4.26z"/></svg></div>
<div class="fab" style="left:1379.5px;top:439.8px"><svg viewBox="0 0 24 24"><path fill="#111" d="M13 3c-4.97 0-9 4.03-9 9H1l3.89 3.89.07.14L9 12H6c0-3.87 3.13-7 7-7s7 3.13 7 7-3.13 7-7 7c-1.93 0-3.68-.79-4.94-2.06l-1.42 1.42C8.27 19.99 10.51 21 13 21c4.97 0 9-4.03 9-9s-4.03-9-9-9zm-1 5v5l4.28 2.54.72-1.21-3.5-2.08V8H12z"/></svg></div>
<div class="dots" style="left:444.7px;top:385.9px"><i style="left:0"></i><i style="left:5.3px"></i><i style="left:10.6px"></i></div>
<div class="dots" style="left:923.7px;top:385.9px"><i style="left:0"></i><i style="left:5.3px"></i><i style="left:10.6px"></i></div>
<div class="dots" style="left:1403.1px;top:794px"><i style="left:0"></i><i style="left:5.3px"></i><i style="left:10.6px"></i></div>
<div id="menu">
<div class="abs" style="left:0;top:141px;width:155px;height:1px;background:#e0e0e0"></div>
<div class="abs" style="left:-1.8px;top:263px;width:161px;height:54.3px;background:#f5f5f5;border:8px solid #fb0007"></div>
<svg class="mic" style="top:17.30px" viewBox="0 0 24 24"><path fill="#1a1a1a" d="M3 3v18h18V3H3zm8 16H5v-6h6v6zm0-8H5V5h6v6zm8 8h-6v-6h6v6zm0-8h-6V5h6v6z"/></svg>
<div class="mi" style="top:20.7px">Edit Dashboard</div>
<svg class="mic" style="top:59.80px" viewBox="0 0 24 24"><path fill="#1a1a1a" d="M17 3H5c-1.11 0-2 .9-2 2v14c0 1.1.89 2 2 2h14c1.1 0 2-.9 2-2V7l-4-4zm-5 16c-1.66 0-3-1.34-3-3s1.34-3 3-3 3 1.34 3 3-1.34 3-3 3zm3-10H5V5h10v4z"/></svg>
<div class="mi" style="top:63.2px">Save</div>
<svg class="mic" style="top:102.30px" viewBox="0 0 24 24"><path fill="#c8c8c8" d="M12.5 8c-2.65 0-5.05.99-6.9 2.6L2 7v9h9l-3.62-3.62c1.39-1.16 3.16-1.88 5.12-1.88 3.54 0 6.55 2.31 7.6 5.5l2.37-.78C21.08 11.03 17.15 8 12.5 8z"/></svg>
<div class="mi dis" style="top:105.7px">Undo changes</div>
<svg class="mic" style="top:152.30px" viewBox="0 0 24 24"><path fill="#1a1a1a" d="M14.4 6L14 4H5v17h2v-7h5.6l.4 2h7V6z"/></svg>
<div class="mi" style="top:155.7px">Set as Starttab</div>
<svg class="mic" style="top:194.80px" viewBox="0 0 24 24"><path fill="#1a1a1a" d="M3 17.25V21h3.75L17.81 9.94l-3.75-3.75L3 17.25zM20.71 7.04c.39-.39.39-1.02 0-1.41l-2.34-2.34c-.39-.39-1.02-.39-1.41 0l-1.83 1.83 3.75 3.75 1.83-1.83z"/></svg>
<div class="mi" style="top:198.2px">Change tabname</div>
<svg class="mic" style="top:237.30px" viewBox="0 0 24 24"><path fill="#1a1a1a" d="M6 19c0 1.1.9 2 2 2h8c1.1 0 2-.9 2-2V7H6v12zM19 4h-3.5l-1-1h-5l-1 1H5v2h14V4z"/></svg>
<div class="mi" style="top:240.7px">Delete tab</div>
<svg class="mic" style="top:279.30px" viewBox="0 0 24 24"><path fill="#1a1a1a" d="M10 9h4V6h3l-5-5-5 5h3v3zm-1 1H6V7l-5 5 5 5v-3h3v-4zm14 2l-5-5v3h-3v4h3v3l5-5zm-9 3h-4v3H7l5 5 5-5h-3v-3z"/></svg>
<div class="mi" style="top:282.7px">Move Tabs</div>
</div>
</body></html>
